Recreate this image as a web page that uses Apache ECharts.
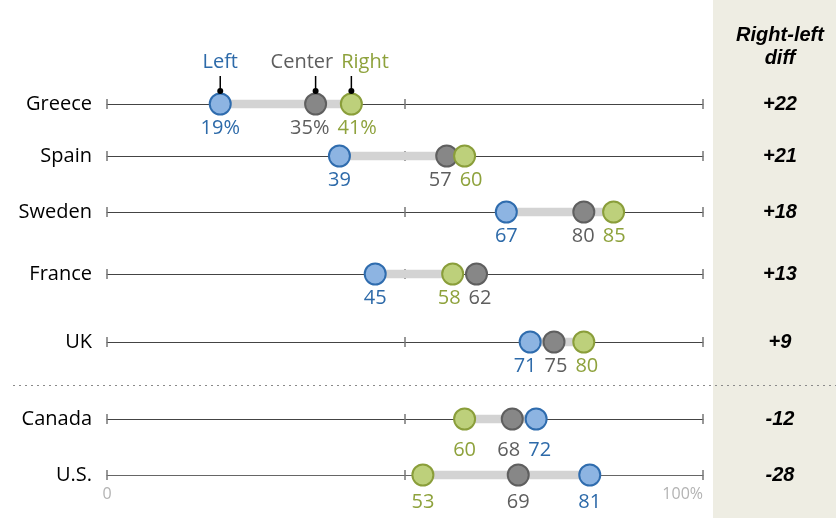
<!DOCTYPE html>
<html>
<head>
<meta charset="utf-8">
<script src="https://cdn.jsdelivr.net/npm/echarts@6/dist/echarts.min.js"></script>
<style>
html,body{margin:0;padding:0;background:#fff}
#main{width:836px;height:518px}
</style>
</head>
<body>
<div id="main"></div>
<script>
// data
var countries = ['Greece','Spain','Sweden','France','UK','Canada','U.S.'];
var leftVals = [19,39,67,45,71,72,81];
var centerVals = [35,57,80,62,75,68,69];
var rightVals = [41,60,85,58,80,60,53];
var groupNames = ['Left','Center','Right'];
var tickLabels = {0:'0', 100:'100%'};

// layout
var rowY = [104,156,212,274,342,419,475];
var labelGap = [3,3,3,3,3,10,6];
var gridLeft = 107, gridWidth = 596;
var FONT = '"Open Sans", sans-serif';

var fills = ['#8db4e2','#878787','#bdd07b'];
var borders = ['#2f6cae','#5f5f5f','#8a9e3a'];
var textCols = ['#2d6aa9','#5e5e5e','#8ea23c'];

var ctx = document.createElement('canvas').getContext('2d');
function textW(s, size){
    ctx.font = size + 'px "Open Sans"';
    return ctx.measureText(s).width;
}
// push label centers apart so they dont overlap
function spread(xs, ws, gap){
    var idx = xs.map(function(x,i){return i;}).sort(function(a,b){return xs[a]-xs[b];});
    var out = xs.slice();
    for (var it=0; it<20; it++){
        for (var k=0; k<idx.length-1; k++){
            var a = idx[k], b = idx[k+1];
            var need = (ws[a]+ws[b])/2 + gap;
            var d = out[b]-out[a];
            if (d < need){
                var s = (need-d)/2;
                out[a] -= s; out[b] += s;
            }
        }
    }
    return out.map(function(x,i){return x-xs[i];});
}
function px(v){ return v*gridWidth/100; }

var grids=[], xAxes=[], yAxes=[], series=[];
var last = countries.length-1;

countries.forEach(function(name, i){
    grids.push({left:gridLeft, width:gridWidth, top:rowY[i], height:0});
    xAxes.push({
        gridIndex:i, type:'value', min:0, max:100, interval:50, position:'bottom',
        axisLine:{show:true, lineStyle:{color: i===last ? '#666' : '#444', width:1}},
        axisTick:{show:true, length:5, lineStyle:{color:'#777', width:1.5}},
        axisLabel: i===last ? {
            show:true, margin:11, fontSize:16, color:'#b3b3b3', fontFamily:FONT,
            alignMaxLabel:'right',
            formatter:function(v){ return tickLabels[v] || ''; }
        } : {show:false},
        splitLine:{show:false}
    });
    xAxes.push({
        gridIndex:i, type:'value', min:0, max:100, interval:50, position:'top',
        axisLine:{show:false},
        axisTick:{show:true, length:5, lineStyle:{color:'#777', width:1.5}},
        axisLabel:{show:false}, splitLine:{show:false}
    });
    var diff = rightVals[i]-leftVals[i];
    yAxes.push({
        gridIndex:i, type:'category', data:[name], position:'left',
        axisLine:{show:false}, axisTick:{show:false}, splitLine:{show:false},
        axisLabel:{margin:15, fontSize:20, color:'#000', fontFamily:FONT}
    });
    yAxes.push({
        gridIndex:i, type:'category', data:[(diff>0?'+':'')+diff], position:'right',
        axisLine:{show:false}, axisTick:{show:false}, splitLine:{show:false},
        axisLabel:{margin:77, align:'center', fontSize:20, color:'#000',
            fontWeight:'bold', fontStyle:'italic', fontFamily:'"Liberation Sans", Arial, sans-serif'}
    });

    var vals = [leftVals[i], centerVals[i], rightVals[i]];
    var texts = vals.map(function(v){ return i===0 ? v+'%' : ''+v; });
    var dx = spread(vals.map(px), texts.map(function(t){return textW(t,20);}), 8);

    // grey range bar from left to right
    series.push({
        type:'line', xAxisIndex:2*i, yAxisIndex:2*i, silent:true, symbol:'none', z:1,
        lineStyle:{color:'#d3d3d3', width:9, cap:'butt'},
        data:[[Math.min(leftVals[i],rightVals[i]),0],[Math.max(leftVals[i],rightVals[i]),0]]
    });
    vals.forEach(function(v, k){
        series.push({
            type:'scatter', xAxisIndex:2*i, yAxisIndex:2*i, z:3+k,
            symbolSize:21,
            itemStyle:{color:fills[k], borderColor:borders[k], borderWidth:2, opacity:1},
            label:{show:true, position:'bottom', distance:labelGap[i], offset:[dx[k],0],
                formatter:texts[k], color:textCols[k], fontSize:20, fontFamily:FONT},
            data:[[v,0]]
        });
    });

    if (i===0){
        var annDx = spread(vals.map(px), groupNames.map(function(t){return textW(t,20);}), 8);
        series.push({
            type:'custom', xAxisIndex:0, yAxisIndex:0, z:10, silent:true,
            data: vals.map(function(v,k){ return [v,0,k]; }),
            renderItem:function(params, api){
                var k = api.value(2);
                var p = api.coord([api.value(0), 0]);
                return {type:'group', children:[
                    {type:'line', shape:{x1:p[0], y1:p[1]-28, x2:p[0], y2:p[1]-13},
                        style:{stroke:'#000', lineWidth:1.5}},
                    {type:'circle', shape:{cx:p[0], cy:p[1]-13, r:3}, style:{fill:'#000'}},
                    {type:'text', x:p[0]+annDx[k], y:p[1]-42,
                        style:{text:groupNames[k], fill:textCols[k], font:'20px ' + FONT,
                            align:'center', verticalAlign:'middle'}}
                ]};
            }
        });
    }
});

var myChart = echarts.init(document.getElementById('main'));
var option = {
    backgroundColor:'#fff',
    animation:false,
    graphic:[
        {type:'rect', z:-10, shape:{x:713, y:0, width:123, height:518}, style:{fill:'#eeede3'}},
        {type:'text', z:10, x:780, y:47,
            style:{text:'Right-left\ndiff', fill:'#000', align:'center', verticalAlign:'middle',
                lineHeight:23, font:'italic bold 20px "Liberation Sans", Arial, sans-serif'}},
        {type:'line', z:10, shape:{x1:13, y1:385.5, x2:836, y2:385.5},
            style:{stroke:'#8a8a8a', lineWidth:1, lineDash:[2,4]}}
    ],
    grid:grids,
    xAxis:xAxes,
    yAxis:yAxes,
    series:series
};
myChart.setOption(option);
</script>
</body>
</html>
